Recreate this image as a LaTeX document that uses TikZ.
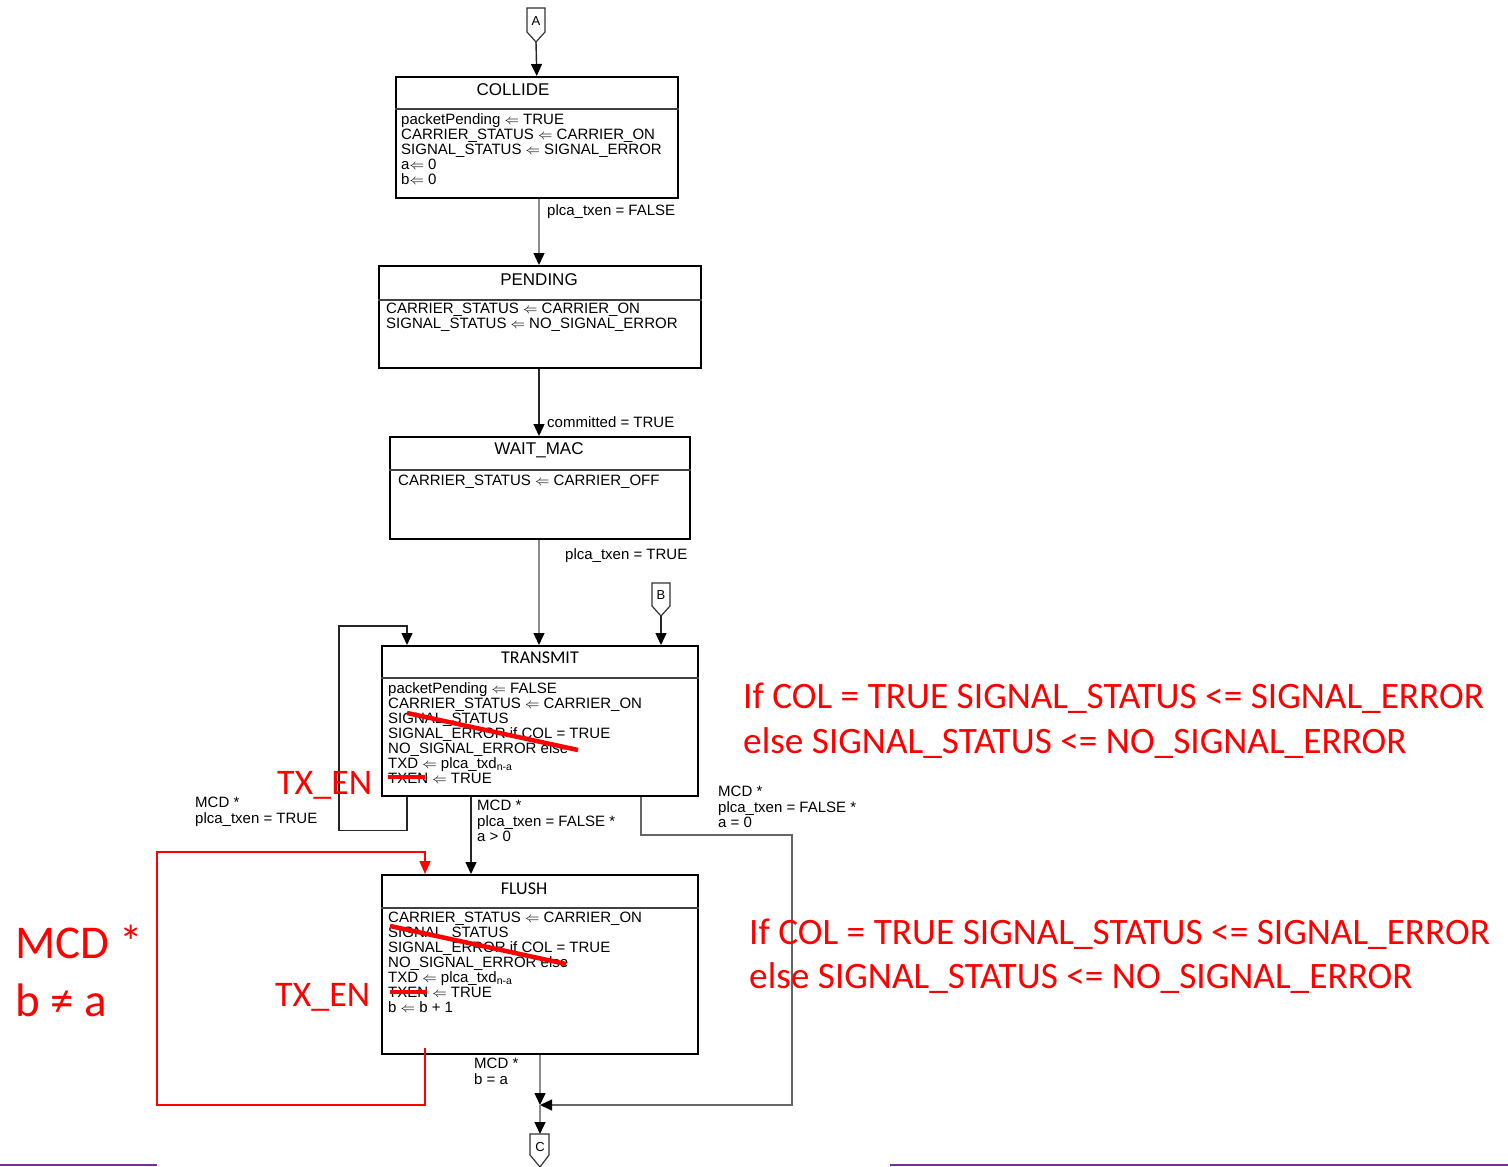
\documentclass[tikz,border=0pt]{standalone}
\usepackage{fontspec}
\setmainfont{Liberation Sans}
\newfontfamily\calibri{Carlito}
\usetikzlibrary{arrows.meta,calc}
\newcommand{\getsarr}{\ensuremath{\Leftarrow}}
\begin{document}
\begin{tikzpicture}[x=1pt,y=-1pt,
 box/.style={draw=black, line width=1.6pt, inner sep=0pt, anchor=north west},
 sep/.style={draw=black!75, line width=1.2pt},
 ttl/.style={font=\fontsize{17}{18}\selectfont, inner sep=0pt},
 ttlc/.style={font=\calibri\fontsize{18}{20}\selectfont, inner sep=0pt},
 body/.style={font=\fontsize{15}{15}\selectfont, align=left, inner sep=0pt, anchor=north west},
 lbl/.style={font=\fontsize{15}{15.5}\selectfont, align=left, inner sep=0pt, anchor=north west},
 arr/.style={draw=black!85, line width=1.4pt, -{Triangle[length=12pt,width=11pt,color=black]}},
 conn/.style={draw=black!80, line width=1.2pt},
 strike/.style={draw=red, line width=4.5pt},
 redarr/.style={draw=red, line width=1.5pt, -{Triangle[length=13pt,width=11pt]}},
 redtxt/.style={text=red, inner sep=0pt, anchor=base west},
 purp/.style={draw={rgb,255:red,112;green,48;blue,160}, line width=2pt},
]
\useasboundingbox (0,0) rectangle (1508,1167);

% ---------- off-page connectors ----------
\draw[conn] (527,8) -- (545,8) -- (545,32) -- (536,42) -- (527,32) -- cycle;
\node[font=\fontsize{13}{14}\selectfont, inner sep=0pt] (A) at (536,21) {A};
\coordinate (Atip) at (536,42);

\draw[conn] (652,583) -- (670,583) -- (670,606) -- (661,616) -- (652,606) -- cycle;
\node[font=\fontsize{13}{14}\selectfont, inner sep=0pt] (B) at (661,595) {B};
\coordinate (Btip) at (661,616);

\draw[conn] (530,1134) -- (549,1134) -- (549,1155) -- (540,1167) -- (530,1155) -- cycle;
\node[font=\fontsize{13}{14}\selectfont, inner sep=0pt] (C) at (540,1147) {C};
\coordinate (Ctop) at (540,1134);

% ---------- COLLIDE ----------
\node[box, minimum width=282pt, minimum height=121pt] (collide) at (395,76) {};
\draw[sep] ($(collide.north west)+(0,33)$) -- ($(collide.north east)+(0,33)$);
\node[ttl] (collideT) at (513,90) {COLLIDE};
\node[body] (collideB) at (401,113) {packetPending \getsarr{} TRUE\\
CARRIER\_STATUS \getsarr{} CARRIER\_ON\\
SIGNAL\_STATUS \getsarr{} SIGNAL\_ERROR\\
a\getsarr{} 0\\
b\getsarr{} 0};

% ---------- PENDING ----------
\node[box, minimum width=322pt, minimum height=102pt] (pending) at (378,265) {};
\draw[sep] ($(pending.north west)+(0,35)$) -- ($(pending.north east)+(0,35)$);
\node[ttl] (pendingT) at (539,280) {PENDING};
\node[body] (pendingB) at (386,303) {CARRIER\_STATUS \getsarr{} CARRIER\_ON\\
SIGNAL\_STATUS \getsarr{} NO\_SIGNAL\_ERROR};

% ---------- WAIT_MAC ----------
\node[box, minimum width=300pt, minimum height=102pt] (waitmac) at (389,436) {};
\draw[sep] ($(waitmac.north west)+(0,34)$) -- ($(waitmac.north east)+(0,34)$);
\node[ttl] (waitmacT) at (539,450) {WAIT\_MAC};
\node[body] (waitmacB) at (398,475) {CARRIER\_STATUS \getsarr{} CARRIER\_OFF};

% ---------- TRANSMIT ----------
\node[box, minimum width=316pt, minimum height=150pt] (transmit) at (381,645) {};
\draw[sep] ($(transmit.north west)+(0,33)$) -- ($(transmit.north east)+(0,33)$);
\node[ttlc] (transmitT) at (540,658) {TRANSMIT};
\node[body] (transmitB) at (388,682) {packetPending \getsarr{} FALSE\\
CARRIER\_STATUS \getsarr{} CARRIER\_ON\\
SIGNAL\_STATUS\\
SIGNAL\_ERROR if COL = TRUE\\
NO\_SIGNAL\_ERROR else\\
TXD \getsarr{} plca\_txd\textsubscript{n-a}\\
TXEN \getsarr{} TRUE};

% ---------- FLUSH ----------
\node[box, minimum width=316pt, minimum height=179pt] (flush) at (381,874) {};
\draw[sep] ($(flush.north west)+(0,34)$) -- ($(flush.north east)+(0,34)$);
\node[ttlc] (flushT) at (524,889) {FLUSH};
\node[body] (flushB) at (388,912) {CARRIER\_STATUS \getsarr{} CARRIER\_ON\\
SIGNAL\_STATUS\\
SIGNAL\_ERROR if COL = TRUE\\
NO\_SIGNAL\_ERROR else\\
TXD \getsarr{} plca\_txd\textsubscript{n-a}\\
TXEN \getsarr{} TRUE\\
b \getsarr{} b + 1};

% ---------- connectors ----------
\coordinate (junc) at (540,1105);
\draw[arr] (Atip) -- (collide.north);
\draw[arr, draw=black!45] ($(collide.south west)+(144,0)$) -- ($(pending.north west)+(161,0)$);
\draw[arr] ($(pending.south west)+(161,0)$) -- ($(waitmac.north west)+(150,0)$);
\draw[arr, draw=black!45] ($(waitmac.south west)+(150,0)$) -- ($(transmit.north west)+(158,0)$);
\draw[arr] (Btip) -- ($(transmit.north west)+(280,0)$);
\draw[arr] ($(transmit.south west)+(26,0)$) -- ++(0,34) -| (339,626) -| ($(transmit.north west)+(26,0)$);
\draw[arr] ($(transmit.south west)+(90,0)$) -- ($(flush.north west)+(90,0)$);
\draw[arr, draw=black!60] ($(transmit.south west)+(260,0)$) |- (792,835) |- (junc);
\draw[arr, draw=black!45] ($(flush.south west)+(159,0)$) -- (junc);
\draw[arr, draw=black!45] (junc) -- (Ctop);

% ---------- labels ----------
\node[lbl] (l1) at (547,204) {plca\_txen = FALSE};
\node[lbl] (l2) at (547,416) {committed = TRUE};
\node[lbl] (l3) at (565,548) {plca\_txen = TRUE};
\node[lbl] (l4) at (195,797) {MCD *\\plca\_txen = TRUE};
\node[lbl] (l5) at (477,800) {MCD *\\plca\_txen = FALSE *\\a > 0};
\node[lbl] (l6) at (718,786) {MCD *\\plca\_txen = FALSE *\\a = 0};
\node[lbl] (l7) at (474,1058) {MCD *\\b = a};

% ---------- red annotations ----------
\draw[strike] (407,713) -- (578,750);
\draw[strike] (388,777) -- (425,777);
\draw[strike] (390,926) -- (566,964);
\draw[strike] (390,992) -- (427,992);
\draw[redarr] ($(flush.south west)+(44,-7)$) -- (425,1105) -| (157,852) -| ($(flush.north west)+(44,0)$);

\node[redtxt, font=\calibri\fontsize{36}{40}\selectfont] (tx1) at (277,794) {TX\_EN};
\node[redtxt, font=\calibri\fontsize{36}{40}\selectfont] (tx2) at (275,1006) {TX\_EN};
\node[redtxt, font=\calibri\fontsize{47}{50}\selectfont] (mcd) at (15,958) {MCD *};
\node[redtxt, font=\calibri\fontsize{47}{50}\selectfont] (bna) at (15,1016) {b ≠ a};
\node[redtxt, font=\calibri\fontsize{37.3}{40}\selectfont] (r1) at (743,708) {If COL = TRUE SIGNAL\_STATUS <= SIGNAL\_ERROR};
\node[redtxt, font=\calibri\fontsize{37.3}{40}\selectfont] (r2) at (743,753) {else SIGNAL\_STATUS <= NO\_SIGNAL\_ERROR};
\node[redtxt, font=\calibri\fontsize{37.3}{40}\selectfont] (r3) at (749,944) {If COL = TRUE SIGNAL\_STATUS <= SIGNAL\_ERROR};
\node[redtxt, font=\calibri\fontsize{37.3}{40}\selectfont] (r4) at (749,988) {else SIGNAL\_STATUS <= NO\_SIGNAL\_ERROR};

% ---------- purple rules ----------
\draw[purp] (0,1165) -- (157,1165);
\draw[purp] (890,1165) -- (1508,1165);
\end{tikzpicture}
\end{document}
